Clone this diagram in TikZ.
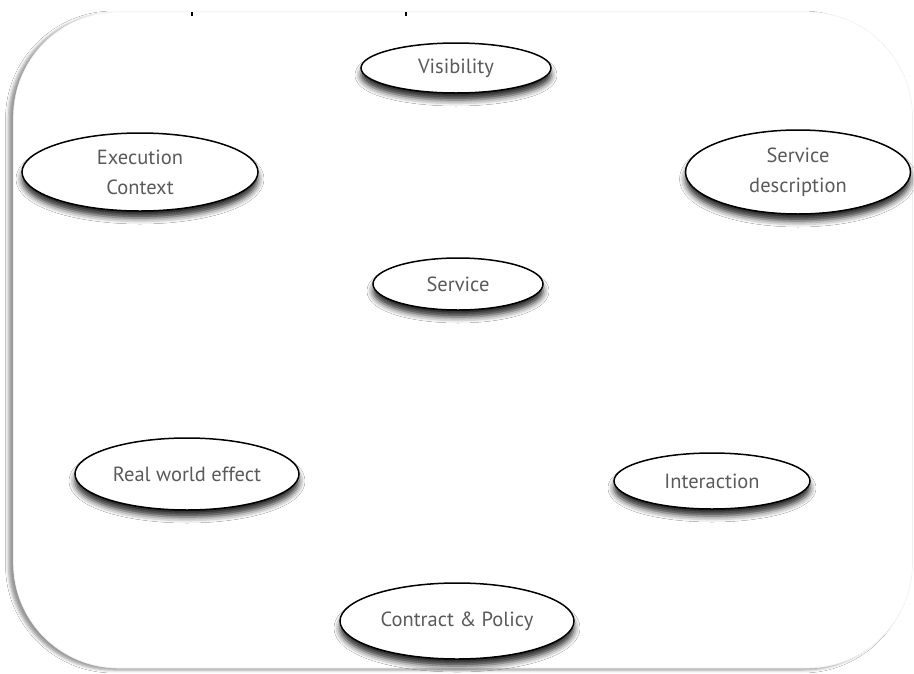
\documentclass[tikz,border=0pt]{standalone}
\usepackage{fontspec}
\setmainfont{PT Sans}
\usetikzlibrary{shapes.geometric,shadows.blur}
\definecolor{txtgray}{HTML}{5A5A5A}
\tikzset{
  concept/.style={ellipse, draw=black, line width=1.5pt, fill=white, inner sep=0pt,
    text=txtgray, align=center, font=\fontsize{20.5}{30}\selectfont,
    blur shadow={shadow xshift=0pt, shadow yshift=-7pt, shadow blur radius=6pt, shadow opacity=85}},
  panel/.style={draw=black!6, line width=0.6pt, fill=white, rounded corners=105pt,
    blur shadow={shadow xshift=-5pt, shadow yshift=-2pt, shadow blur radius=3pt, shadow opacity=40}},
  tick/.style={fill=black}
}
\begin{document}
\begin{tikzpicture}[x=1pt,y=-1pt]
\useasboundingbox[fill=white] (0,0) rectangle (914,673);
\node[panel, minimum width=899pt, minimum height=656pt, inner sep=0pt] (bg) at (463,340) {};
\fill[tick] (190.8,12) rectangle (193.2,15.5);
\fill[tick] (404.8,12) rectangle (407.2,15.5);
\node[concept, minimum width=190pt, minimum height=50pt] (vis) at (456,68) {Visibility};
\node[concept, minimum width=236pt, minimum height=78pt] (exec) at (140,172) {Execution\\Context};
\node[concept, minimum width=225pt, minimum height=84pt] (desc) at (798,172) {Service\\description};
\node[concept, minimum width=170pt, minimum height=52pt] (svc) at (458,284) {Service};
\node[concept, minimum width=224pt, minimum height=72pt] (rwe) at (187,474) {Real world effect};
\node[concept, minimum width=196pt, minimum height=56pt] (inter) at (712,481) {Interaction};
\node[concept, minimum width=234pt, minimum height=76pt] (cp) at (457,621) {Contract \& Policy};
\end{tikzpicture}
\end{document}
